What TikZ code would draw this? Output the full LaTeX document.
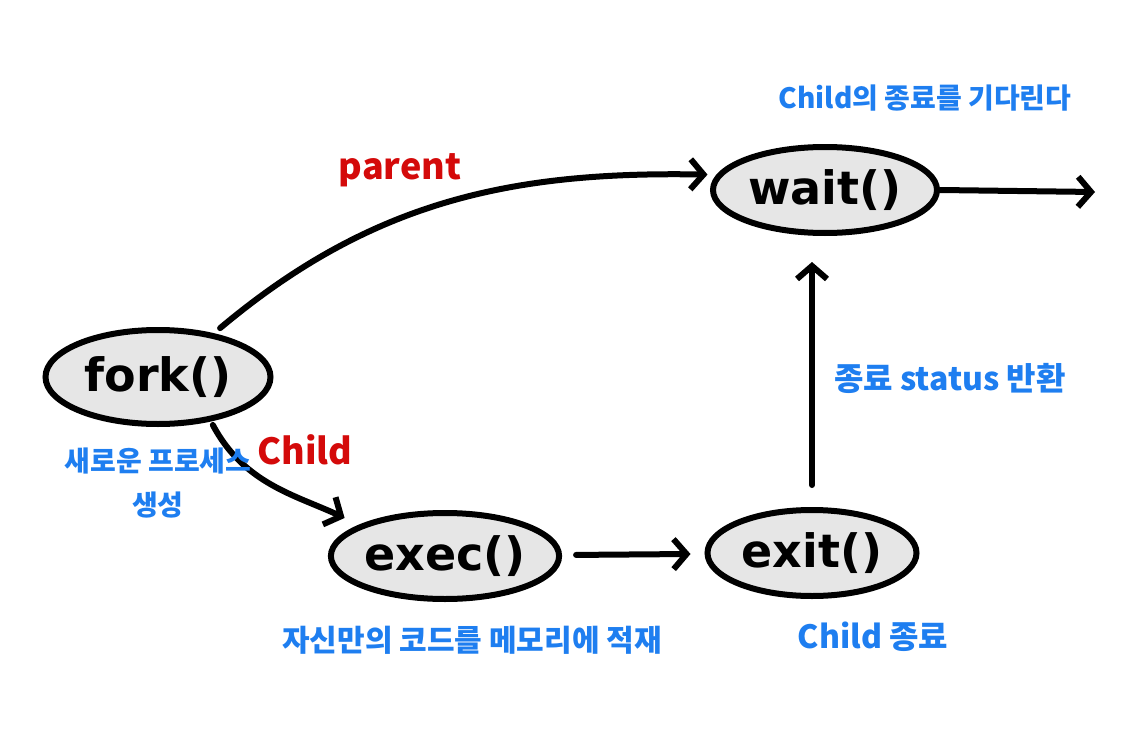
\documentclass[tikz,border=0pt]{standalone}
\usepackage{fontspec}
\setmainfont{DejaVu Sans}
\newfontfamily\kr{Noto Sans CJK KR}
\usetikzlibrary{shapes.geometric,arrows.meta}
\definecolor{nodegray}{HTML}{E6E6E6}
\definecolor{noteblue}{HTML}{1E7EF0}
\definecolor{notered}{HTML}{D40A0A}
\tikzset{
  proc/.style={ellipse, draw=black, line width=6pt, fill=nodegray, inner sep=0pt,
    font=\fontsize{46}{50}\selectfont\bfseries},
  conn/.style={line width=6pt, line cap=round, line join=round,
    -{Straight Barb[length=13pt,width=30pt,line width=6pt]}},
  note/.style={text=noteblue, font=\kr\bfseries\fontsize{28}{44}\selectfont, align=center, inner sep=0pt},
  midnote/.style={note, font=\kr\bfseries\fontsize{30}{44}\selectfont},
  bignote/.style={note, font=\kr\bfseries\fontsize{32}{44}\selectfont},
  rednote/.style={text=notered, font=\kr\bfseries\fontsize{36}{40}\selectfont, inner sep=0pt}
}
\begin{document}
\begin{tikzpicture}[x=1pt,y=1pt]
\useasboundingbox[fill=white] (0,0) rectangle (1128,-736);
\node[proc, minimum width=225pt, minimum height=94pt] (fork) at (158,-377) {fork()};
\node[proc, minimum width=224pt, minimum height=86pt] (wait) at (825,-190) {wait()};
\node[proc, minimum width=224pt, minimum height=86pt] (exec) at (445,-556) {exec()};
\node[proc, minimum width=209pt, minimum height=86pt] (exit) at (812,-553) {exit()};
\coordinate (out) at (1095,-192);

\draw[conn, shorten <=8pt, shorten >=9pt] (fork.38) to[out=40, in=179] (wait.172);
\draw[conn] (wait.east) -- (out);
\draw[conn, shorten <=22pt, shorten >=26pt] (exit.north) -- (exit.north |- wait.south);
\draw[conn, shorten <=14pt, shorten >=14pt] (exec) -- (exit);
\draw[conn, shorten <=4pt, shorten >=16pt] (fork.-40) to[out=-62, in=155] (exec.160);

\node[rednote] (lparent) at (400,-170) {parent};
\node[rednote] (lchild) at (305,-450) {Child};
\node[note] (lwait) at (925,-98) {Child의 종료를 기다린다};
\node[note] (lfork) at (158,-483) {새로운 프로세스\\생성};
\node[midnote] (lexec) at (472,-640) {자신만의 코드를 메모리에 적재};
\node[bignote] (lexit) at (873,-637) {Child 종료};
\node[bignote] (lstatus) at (950,-378) {종료 status 반환};
\end{tikzpicture}
\end{document}
